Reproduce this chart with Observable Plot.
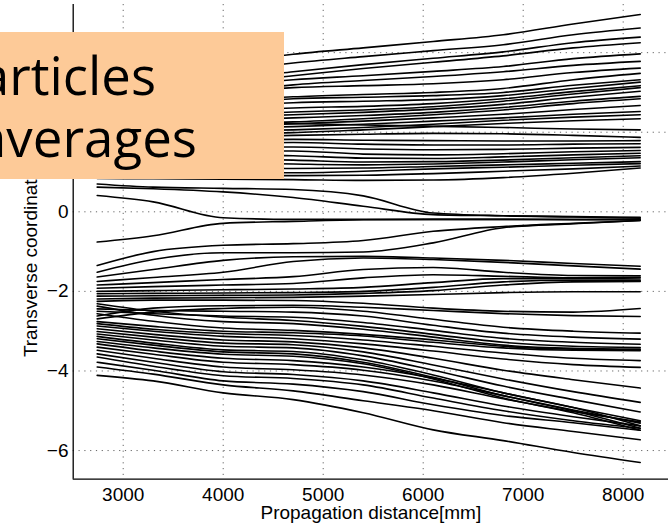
<!DOCTYPE html>
<html>
<head>
<meta charset="utf-8">
<script src="https://cdn.jsdelivr.net/npm/d3@7"></script>
<script src="https://cdn.jsdelivr.net/npm/@observablehq/plot@0.6"></script>
<style>
  html, body { margin: 0; padding: 0; background: #fff; }
  #wrap { position: relative; width: 668px; height: 524px; overflow: hidden; }
  #overlay { position: absolute; left: 0; top: 32px; }
</style>
</head>
<body>
<div id="wrap">
  <div id="chart"></div>
  <svg id="overlay" width="284" height="147">
    <rect x="0" y="0" width="284" height="147" fill="#fdca98"></rect>
    <text x="-20" y="63" font-family="'Open Sans'" font-size="53" fill="#000" textLength="176" lengthAdjust="spacingAndGlyphs">articles</text>
    <text x="-23" y="125" font-family="'Open Sans'" font-size="53" fill="#000" textLength="220" lengthAdjust="spacingAndGlyphs">averages</text>
  </svg>
</div>
<script>
// Sample positions along the propagation distance (mm)
const xDist = [2740, 3300, 4000, 4700, 5400, 6100, 6800, 7500, 8170];
const xTicks = [3000, 4000, 5000, 6000, 7000, 8000];
const yTicks = [-6, -4, -2, 0, 2, 4];
const xDomain = [2500, 8453];
const yDomain = [-6.72, 5.21];
const xLabel = "Propagation distance[mm]";
const yLabel = "Transverse coordinate[mm]";

// Upper bundle of trajectories
const upperLines = [
  [3.20, 3.45, 3.75, 3.96, 4.12, 4.28, 4.45, 4.72, 4.96],
  [3.00, 3.25, 3.52, 3.74, 3.90, 4.05, 4.20, 4.45, 4.62],
  [2.85, 3.05, 3.32, 3.52, 3.70, 3.86, 4.02, 4.25, 4.39],
  [2.80, 2.98, 3.24, 3.42, 3.60, 3.76, 3.92, 4.12, 4.25],
  [2.75, 2.92, 3.15, 3.32, 3.42, 3.53, 3.65, 3.85, 3.97],
  [2.70, 2.85, 3.02, 3.19, 3.30, 3.40, 3.52, 3.68, 3.78],
  [2.65, 2.80, 2.98, 3.12, 3.17, 3.22, 3.32, 3.50, 3.61],
  [2.50, 2.62, 2.78, 2.89, 2.95, 3.00, 3.10, 3.32, 3.48],
  [2.45, 2.58, 2.72, 2.84, 2.88, 2.92, 3.00, 3.18, 3.32],
  [2.40, 2.52, 2.65, 2.74, 2.78, 2.82, 2.92, 3.10, 3.26],
  [2.30, 2.42, 2.52, 2.61, 2.65, 2.72, 2.84, 3.02, 3.17],
  [2.25, 2.35, 2.44, 2.51, 2.56, 2.64, 2.78, 2.96, 3.12],
  [2.20, 2.30, 2.38, 2.44, 2.50, 2.58, 2.70, 2.88, 3.03],
  [2.15, 2.24, 2.30, 2.36, 2.42, 2.50, 2.62, 2.78, 2.90],
  [2.10, 2.18, 2.22, 2.26, 2.34, 2.44, 2.56, 2.72, 2.84],
  [2.05, 2.12, 2.16, 2.21, 2.28, 2.36, 2.45, 2.57, 2.67],
  [2.00, 2.06, 2.10, 2.14, 2.20, 2.28, 2.36, 2.45, 2.52],
  [1.95, 2.00, 2.03, 2.06, 2.12, 2.20, 2.30, 2.38, 2.44],
  [1.90, 1.94, 1.96, 1.99, 2.06, 2.14, 2.22, 2.29, 2.34],
  [2.35, 2.30, 2.25, 2.22, 2.18, 2.15, 2.12, 2.08, 2.06],
  [1.80, 1.85, 1.88, 1.92, 1.95, 1.97, 1.96, 1.92, 1.87],
  [1.75, 1.78, 1.80, 1.82, 1.80, 1.79, 1.78, 1.78, 1.79],
  [1.68, 1.70, 1.72, 1.74, 1.70, 1.68, 1.68, 1.70, 1.71],
  [1.60, 1.62, 1.63, 1.63, 1.58, 1.56, 1.57, 1.60, 1.62],
  [1.52, 1.53, 1.53, 1.53, 1.45, 1.43, 1.46, 1.51, 1.54],
  [1.45, 1.44, 1.43, 1.41, 1.35, 1.34, 1.38, 1.43, 1.47],
  [1.38, 1.36, 1.33, 1.30, 1.25, 1.26, 1.30, 1.36, 1.41],
  [1.30, 1.27, 1.23, 1.20, 1.18, 1.20, 1.25, 1.31, 1.36],
  [1.20, 1.17, 1.13, 1.09, 1.10, 1.14, 1.18, 1.22, 1.26],
  [1.10, 1.06, 1.02, 0.98, 1.02, 1.08, 1.12, 1.17, 1.21],
  [1.02, 0.98, 0.94, 0.91, 0.92, 0.96, 1.02, 1.08, 1.15],
  [0.84, 0.83, 0.82, 0.81, 0.79, 0.80, 0.86, 0.97, 1.10]
];

// Trajectories converging near zero
const zeroLines = [
  [0.70, 0.62, 0.59, 0.56, 0.40, -0.03, -0.10, -0.13, -0.16],
  [0.62, 0.58, 0.50, 0.36, 0.14, -0.07, -0.10, -0.12, -0.14],
  [0.41, 0.25, -0.15, -0.19, -0.19, -0.19, -0.19, -0.20, -0.20],
  [-0.76, -0.60, -0.29, -0.24, -0.20, -0.19, -0.19, -0.19, -0.19],
  [-1.35, -1.00, -0.84, -0.80, -0.72, -0.49, -0.37, -0.29, -0.22],
  [-1.52, -1.20, -1.03, -1.03, -1.01, -0.78, -0.40, -0.30, -0.22]
];

// Lower bundle of trajectories
const lowerLines = [
  [-1.64, -1.45, -1.22, -1.13, -1.12, -1.16, -1.22, -1.30, -1.37],
  [-1.75, -1.65, -1.52, -1.25, -1.16, -1.20, -1.27, -1.36, -1.44],
  [-1.84, -1.78, -1.70, -1.63, -1.45, -1.40, -1.52, -1.60, -1.61],
  [-1.92, -1.88, -1.84, -1.80, -1.66, -1.58, -1.62, -1.66, -1.65],
  [-2.00, -1.98, -1.96, -1.94, -1.90, -1.78, -1.68, -1.68, -1.69],
  [-2.06, -2.05, -2.04, -2.03, -2.00, -1.90, -1.76, -1.72, -1.73],
  [-2.12, -2.11, -2.10, -2.09, -2.05, -1.98, -1.84, -1.76, -1.75],
  [-2.19, -2.17, -2.16, -2.15, -2.12, -2.08, -2.03, -2.01, -2.01],
  [-2.25, -2.22, -2.22, -2.23, -2.30, -2.42, -2.50, -2.52, -2.43],
  [-2.62, -2.42, -2.36, -2.35, -2.40, -2.48, -2.56, -2.61, -2.63],
  [-2.69, -2.52, -2.43, -2.40, -2.50, -2.70, -2.90, -3.00, -3.05],
  [-2.44, -2.48, -2.50, -2.52, -2.62, -2.85, -3.05, -3.15, -3.20],
  [-2.50, -2.56, -2.62, -2.65, -2.78, -2.98, -3.18, -3.28, -3.33],
  [-2.31, -2.50, -2.65, -2.73, -2.88, -3.08, -3.28, -3.38, -3.41],
  [-2.37, -2.60, -2.76, -2.81, -2.95, -3.15, -3.35, -3.43, -3.45],
  [-2.56, -2.75, -2.92, -2.98, -3.08, -3.22, -3.38, -3.45, -3.47],
  [-2.76, -2.88, -3.00, -3.04, -3.12, -3.28, -3.42, -3.48, -3.49],
  [-2.81, -2.95, -3.06, -3.11, -3.22, -3.38, -3.55, -3.68, -3.74],
  [-2.87, -3.00, -3.13, -3.19, -3.32, -3.50, -3.70, -3.84, -3.91],
  [-2.94, -3.08, -3.22, -3.27, -3.42, -3.68, -3.98, -4.22, -4.43],
  [-3.01, -3.15, -3.30, -3.34, -3.52, -3.85, -4.20, -4.52, -4.79],
  [-3.07, -3.22, -3.38, -3.42, -3.62, -3.98, -4.38, -4.72, -5.03],
  [-3.13, -3.30, -3.47, -3.51, -3.72, -4.10, -4.55, -4.92, -5.38],
  [-3.19, -3.35, -3.52, -3.57, -3.78, -4.16, -4.62, -5.00, -5.44],
  [-3.26, -3.42, -3.58, -3.63, -3.82, -4.20, -4.68, -5.05, -5.49],
  [-3.32, -3.50, -3.68, -3.74, -3.90, -4.18, -4.55, -4.92, -5.25],
  [-3.40, -3.58, -3.78, -3.84, -3.98, -4.25, -4.62, -4.98, -5.31],
  [-3.48, -3.68, -3.90, -3.97, -4.10, -4.35, -4.70, -5.02, -5.28],
  [-3.57, -3.78, -4.02, -4.09, -4.25, -4.55, -4.88, -5.15, -5.38],
  [-3.65, -3.88, -4.12, -4.19, -4.35, -4.68, -5.00, -5.25, -5.44],
  [-3.78, -3.98, -4.25, -4.33, -4.52, -4.85, -5.12, -5.30, -5.49],
  [-3.90, -4.08, -4.35, -4.50, -4.75, -5.00, -5.30, -5.52, -5.73],
  [-4.11, -4.25, -4.55, -4.72, -5.05, -5.48, -5.75, -6.05, -6.30]
];

const allLines = [...upperLines, ...zeroLines, ...lowerLines];
const points = allLines.flatMap((vals, id) =>
  vals.map((y, j) => ({id, x: xDist[j], y}))
);

const gridStyle = {stroke: "#555", strokeOpacity: 0.9, strokeWidth: 1, strokeDasharray: "1.2,4.6"};

const chart = Plot.plot({
  width: 668,
  height: 524,
  marginLeft: 72.7,
  marginRight: 0,
  marginTop: 4,
  marginBottom: 45.3,
  style: {fontFamily: "'Liberation Sans', Arial, sans-serif", fontSize: "19px", background: "#fff", color: "#000", overflow: "visible"},
  x: {domain: xDomain, ticks: xTicks, tickSize: 0, tickPadding: 8.5, label: null, tickFormat: d3.format("d")},
  y: {domain: yDomain, ticks: yTicks, tickSize: 0, tickPadding: 4.7, label: null},
  marks: [
    Plot.gridX(xTicks, gridStyle),
    Plot.gridY(yTicks, gridStyle),
    Plot.line(points, {x: "x", y: "y", z: "id", curve: "monotone-x", stroke: "#000", strokeWidth: 1.6}),
    Plot.ruleX([xDomain[0]], {stroke: "#000", strokeWidth: 1.3}),
    Plot.ruleY([yDomain[0]], {stroke: "#000", strokeWidth: 1.3}),
    Plot.text([xLabel], {frameAnchor: "bottom", dy: 33.8, textAnchor: "middle", lineAnchor: "middle", fontSize: 19, fill: "#000"}),
    Plot.text([yLabel], {frameAnchor: "left", dx: -42.7, rotate: -90, textAnchor: "middle", lineAnchor: "middle", fontSize: 19, fill: "#000"})
  ]
});
document.getElementById("chart").appendChild(chart);
</script>
</body>
</html>
